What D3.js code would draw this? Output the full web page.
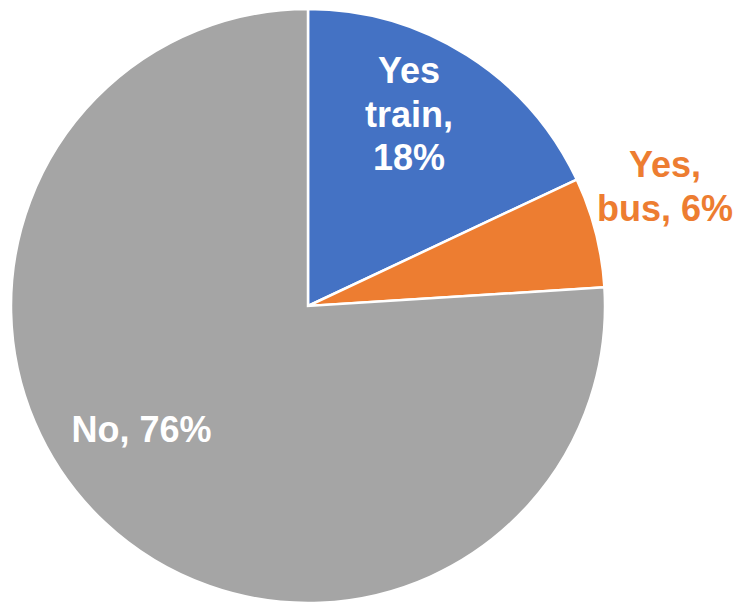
<!DOCTYPE html>
<html>
<head>
<meta charset="utf-8">
<script src="https://cdn.jsdelivr.net/npm/d3@7"></script>
<style>
  html, body { margin: 0; padding: 0; background: #fff; }
  svg { display: block; }
  text { font-family: "Liberation Sans", Arial, sans-serif; font-weight: bold; }
</style>
</head>
<body>
<svg id="chart" width="739" height="603"></svg>
<script>
// Survey answers and their shares (percent)
const categories = ["Yes train", "Yes, bus", "No"];
const shares = [18, 6, 76];
const colors = ["#4472C4", "#ED7D31", "#A5A5A5"];
// Label lines for each slice
const labelLines = [["Yes", "train,", "18%"], ["Yes,", "bus, 6%"], ["No, 76%"]];
const labelColors = ["#ffffff", "#ED7D31", "#ffffff"];
// Label placement: offset of the first baseline from the pie centre
const labelOffsets = [[101, -223], [357, -129], [-166.5, 136]];

const svg = d3.select("#chart");
const cx = 308, cy = 306, r = 297;
const lineGap = 43.5;

const data = categories.map((c, i) => ({ name: c, value: shares[i], color: colors[i],
  lines: labelLines[i], labelColor: labelColors[i], offset: labelOffsets[i] }));

const pie = d3.pie().value(d => d.value).sort(null);
const arcs = pie(data);
const arc = d3.arc().innerRadius(0).outerRadius(r);

const g = svg.append("g").attr("transform", `translate(${cx},${cy})`);

g.selectAll("path")
  .data(arcs)
  .join("path")
  .attr("d", arc)
  .attr("fill", d => d.data.color)
  .attr("stroke", "#fff")
  .attr("stroke-width", 2.5)
  .attr("stroke-linejoin", "miter");

const labels = g.selectAll("text.lbl")
  .data(arcs)
  .join("text")
  .attr("class", "lbl")
  .attr("text-anchor", "middle")
  .attr("font-size", 36)
  .attr("fill", d => d.data.labelColor);

labels.each(function (d) {
  const [x, y] = d.data.offset;
  d3.select(this).selectAll("tspan")
    .data(d.data.lines)
    .join("tspan")
    .attr("x", x)
    .attr("y", (ln, k) => y + k * lineGap)
    .text(ln => ln);
});
</script>
</body>
</html>
